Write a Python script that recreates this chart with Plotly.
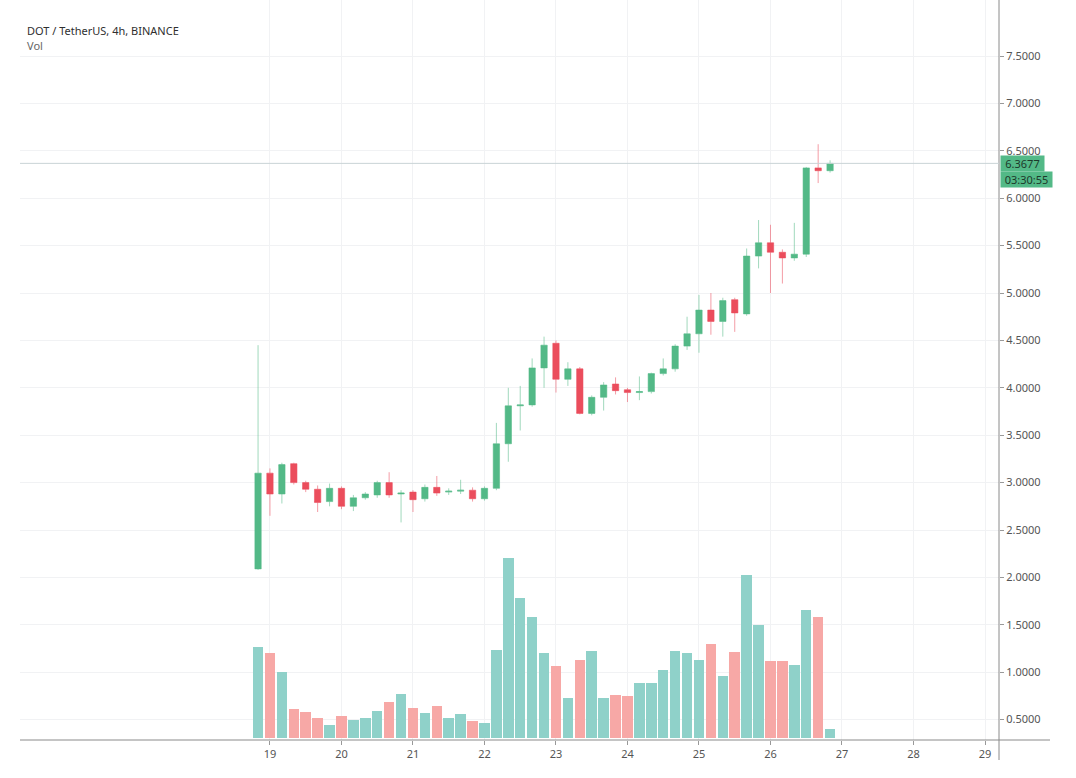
import pandas as pd
import plotly.graph_objects as go

# ---- data ----
start_time = "2020-08-18 20:00"
n_bars = 49

opens = [2.09, 3.10, 2.88, 3.20, 3.00, 2.93, 2.80, 2.94, 2.75, 2.84,
         2.87, 3.00, 2.88, 2.90, 2.83, 2.95, 2.90, 2.91, 2.92, 2.83,
         2.94, 3.41, 3.81, 3.82, 4.21, 4.47, 4.09, 4.20, 3.73, 3.90,
         4.04, 3.98, 3.95, 3.96, 4.15, 4.20, 4.44, 4.57, 4.82, 4.70,
         4.93, 4.78, 5.39, 5.53, 5.43, 5.37, 5.41, 6.32, 6.29]
highs = [4.45, 3.15, 3.21, 3.21, 3.02, 2.97, 2.99, 2.96, 2.87, 2.90,
         3.02, 3.11, 2.92, 2.92, 2.98, 3.07, 2.94, 3.03, 2.95, 2.96,
         3.63, 4.00, 4.02, 4.31, 4.54, 4.50, 4.27, 4.22, 3.92, 4.06,
         4.11, 4.00, 4.12, 4.16, 4.31, 4.46, 4.75, 4.98, 5.00, 4.95,
         4.95, 5.47, 5.77, 5.72, 5.46, 5.74, 6.33, 6.57, 6.40]
lows = [2.08, 2.65, 2.78, 2.98, 2.90, 2.69, 2.75, 2.72, 2.70, 2.82,
        2.84, 2.84, 2.58, 2.69, 2.80, 2.86, 2.87, 2.88, 2.80, 2.81,
        2.92, 3.22, 3.55, 3.80, 4.00, 3.95, 4.02, 3.72, 3.71, 3.76,
        3.93, 3.85, 3.87, 3.94, 4.13, 4.17, 4.40, 4.37, 4.56, 4.54,
        4.59, 4.76, 5.26, 5.00, 5.10, 5.34, 5.38, 6.16, 6.27]
closes = [3.10, 2.88, 3.19, 3.00, 2.93, 2.79, 2.94, 2.75, 2.84, 2.88,
          3.00, 2.87, 2.89, 2.82, 2.95, 2.89, 2.91, 2.92, 2.83, 2.94,
          3.41, 3.81, 3.82, 4.21, 4.45, 4.09, 4.20, 3.73, 3.90, 4.03,
          3.97, 3.95, 3.96, 4.15, 4.20, 4.44, 4.57, 4.82, 4.70, 4.92,
          4.79, 5.39, 5.53, 5.43, 5.37, 5.41, 6.32, 6.29, 6.3677]
volumes = [6.07, 5.65, 4.38, 1.95, 1.71, 1.35, 0.85, 1.45, 1.20, 1.31,
           1.80, 2.38, 2.93, 2.02, 1.69, 2.13, 1.31, 1.58, 1.11, 1.02,
           5.89, 11.98, 9.31, 8.09, 5.65, 4.80, 2.69, 5.20, 5.82, 2.65,
           2.87, 2.82, 3.65, 3.65, 4.53, 5.80, 5.65, 5.20, 6.25, 4.13,
           5.75, 10.87, 7.53, 5.13, 5.13, 4.87, 8.53, 8.09, 0.58]

tick_dates = ["2020-08-19", "2020-08-20", "2020-08-21", "2020-08-22",
              "2020-08-23", "2020-08-24", "2020-08-25", "2020-08-26",
              "2020-08-27", "2020-08-28", "2020-08-29"]
tick_labels = ["19", "20", "21", "22", "23", "24", "25", "26", "27", "28", "29"]
price_ticks = [0.5, 1.0, 1.5, 2.0, 2.5, 3.0, 3.5, 4.0, 4.5, 5.0, 5.5, 6.0, 6.5, 7.0, 7.5]

title_text = "DOT / TetherUS, 4h, BINANCE"
vol_text = "Vol"
last_price = 6.3677
countdown = "03:30:55"

# ---- styling ----
UP = "#53b987"
DOWN = "#eb4d5c"
UP_WICK = "rgba(83,185,135,0.55)"
DOWN_WICK = "rgba(235,77,92,0.55)"
VOL_UP = "#8fd1c9"
VOL_DOWN = "#f7a8a6"
GRID = "#f1f2f4"
TXT = "#555555"
FONT = "Noto Sans"

times = pd.date_range(start_time, periods=n_bars, freq="4h")
vol_colors = [VOL_UP if c >= o else VOL_DOWN for o, c in zip(opens, closes)]

fig = go.Figure()

fig.add_trace(go.Bar(
    x=times, y=volumes, yaxis="y2",
    marker=dict(color=vol_colors, line=dict(width=0)),
    width=4 * 3600 * 1000 * 0.88,
    showlegend=False, hoverinfo="skip",
))

fig.add_trace(go.Candlestick(
    x=times, open=opens, high=highs, low=lows, close=closes,
    increasing=dict(line=dict(color=UP_WICK, width=1), fillcolor=UP),
    decreasing=dict(line=dict(color=DOWN_WICK, width=1), fillcolor=DOWN),
    whiskerwidth=0,
    showlegend=False,
))

W, H = 1076, 778
L, R, T, B = 20, 77, 0, 38
pw = W - L - R
ph = H - T - B

fig.update_layout(
    width=W, height=H,
    margin=dict(l=L, r=R, t=T, b=B, pad=0),
    paper_bgcolor="white", plot_bgcolor="white",
    font=dict(family=FONT, size=11, color=TXT),
    boxgap=0.24,
    bargap=0,
    showlegend=False,
    xaxis=dict(
        type="date",
        range=["2020-08-15 12:06", "2020-08-29 04:42"],
        tickvals=tick_dates, ticktext=tick_labels,
        showgrid=True, gridcolor=GRID, gridwidth=1,
        ticks="outside", ticklen=4, tickcolor="#999999",
        showline=False, zeroline=False,
        rangeslider=dict(visible=False),
        tickfont=dict(size=11, color=TXT, family=FONT),
        fixedrange=True,
    ),
    yaxis=dict(
        side="right",
        range=[0.285, 8.091],
        tickvals=price_ticks, tickformat=".4f",
        showgrid=True, gridcolor=GRID, gridwidth=1,
        ticks="outside", ticklen=4, tickcolor="#999999",
        showline=False, zeroline=False,
        tickfont=dict(size=11, color=TXT, family=FONT),
        fixedrange=True,
    ),
    yaxis2=dict(
        overlaying="y", range=[-0.13, 49.2],
        visible=False, showgrid=False, fixedrange=True,
    ),
)

# axis lines (TradingView style)
fig.add_shape(type="line", xref="paper", yref="paper",
              x0=0, x1=(1050 - L) / pw, y0=0, y1=0,
              line=dict(color="#8a8a8a", width=1))
fig.add_shape(type="line", xref="paper", yref="paper",
              x0=1, x1=1, y0=1, y1=-20 / ph,
              line=dict(color="#8a8a8a", width=1))

# last price line
fig.add_shape(type="line", xref="paper", yref="y",
              x0=0, x1=1, y0=last_price, y1=last_price,
              line=dict(color="#c9d3d6", width=1))

# legend text
fig.add_annotation(text=title_text, xref="paper", yref="paper",
                   x=(25 - L) / pw, y=(ph - 30) / ph, xanchor="left", yanchor="middle",
                   showarrow=False, font=dict(size=11, color="#2f2f2f", family=FONT))
fig.add_annotation(text=vol_text, xref="paper", yref="paper",
                   x=(25 - L) / pw, y=(ph - 45) / ph, xanchor="left", yanchor="middle",
                   showarrow=False, font=dict(size=11, color="#666666", family=FONT))

# price label boxes
fig.add_annotation(text="%.4f" % last_price, xref="paper", yref="y",
                   x=(1000 - L) / pw, y=last_price, xanchor="left", yanchor="middle",
                   showarrow=False, bgcolor=UP, borderpad=1, width=41, height=13,
                   align="center",
                   font=dict(size=11, color="#1d3a2b", family=FONT))
fig.add_annotation(text=countdown, xref="paper", yref="y",
                   x=(999.5 - L) / pw, y=last_price, yshift=-16, xanchor="left", yanchor="middle",
                   showarrow=False, bgcolor=UP, borderpad=1, width=49, height=13,
                   align="center",
                   font=dict(size=11, color="#1d3a2b", family=FONT))

fig.write_html("out.html",
               config={"displayModeBar": False, "staticPlot": True},
               post_script="document.body.style.margin='0';document.body.style.overflow='hidden';")
